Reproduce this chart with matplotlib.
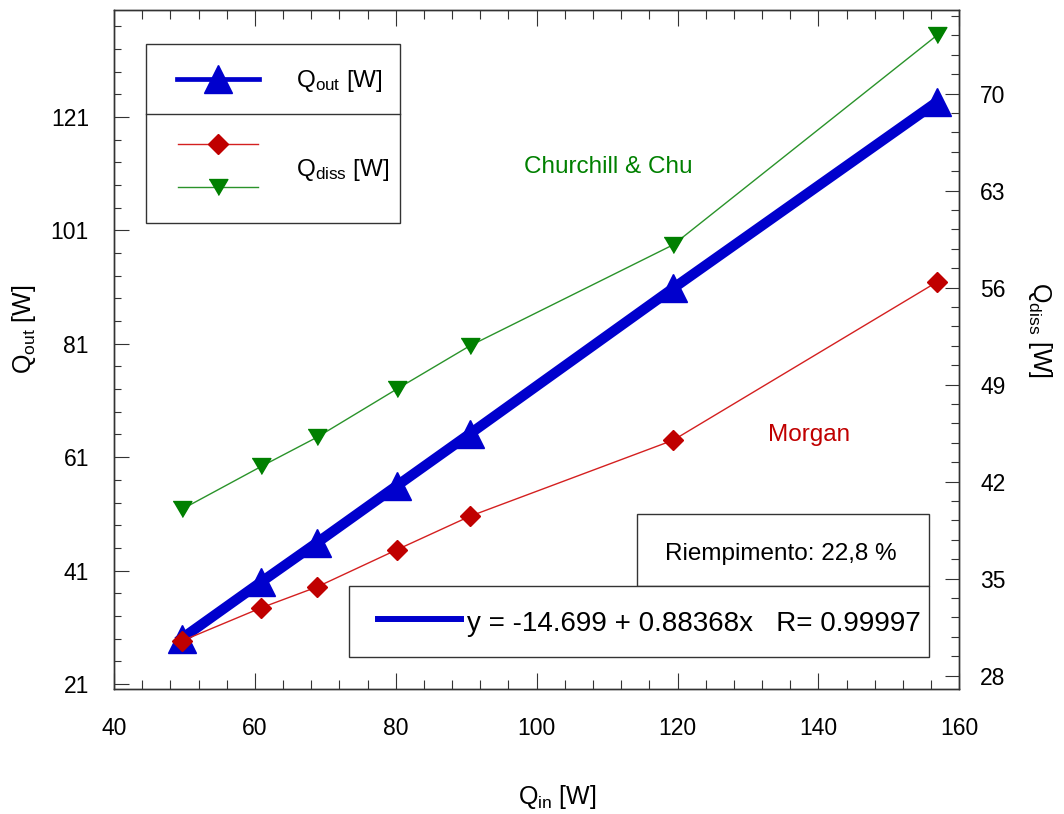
import numpy as np
import matplotlib
matplotlib.use("Agg")
import matplotlib.pyplot as plt
from matplotlib import font_manager
from matplotlib.lines import Line2D
from matplotlib.patches import Rectangle
from matplotlib.ticker import FixedLocator

# ---------------- data ----------------
q_in = [49.6, 60.9, 68.8, 80.2, 90.5, 119.4, 156.8]
q_out = [29.0, 39.0, 45.9, 56.0, 65.1, 90.8, 123.6]
q_diss_morgan = [30.5, 32.9, 34.4, 37.1, 39.5, 45.0, 56.4]
q_diss_churchill = [40.0, 43.1, 45.2, 48.7, 51.8, 59.1, 74.2]

x_ticks = [40, 60, 80, 100, 120, 140, 160]
y_left_ticks = [21, 41, 61, 81, 101, 121]
y_right_ticks = [28, 35, 42, 49, 56, 63, 70]

fit_text = "y = -14.699 + 0.88368x   R= 0.99997"
fill_text = "Riempimento: 22,8 %"
label_churchill = "Churchill & Chu"
label_morgan = "Morgan"

# ---------------- fonts ----------------
names = {f.name for f in font_manager.fontManager.ttflist}
if "Liberation Sans Narrow" in names:
    FONT = "Liberation Sans Narrow"
    TICK_FS, LAB_FS, LEG_FS, ANN_FS, EQ_FS = 18.4, 20, 19, 20, 23.5
else:
    FONT = "Liberation Sans"
    TICK_FS, LAB_FS, LEG_FS, ANN_FS, EQ_FS = 16.5, 18, 17.5, 17.5, 20
plt.rcParams["font.family"] = [FONT, "DejaVu Sans"]
plt.rcParams["mathtext.fontset"] = "custom"
plt.rcParams["mathtext.rm"] = FONT
plt.rcParams["mathtext.it"] = FONT
plt.rcParams["mathtext.bf"] = FONT

W, H = 1064, 814
fig = plt.figure(figsize=(W / 100, H / 100), dpi=100)

L, R, T, B = 114, 959.3, 9.7, 689
ax = fig.add_axes([L / W, 1 - B / H, (R - L) / W, (B - T) / H])
ax2 = ax.twinx()

BLUE = "#0000CD"
RED = "#C00000"
REDL = "#D42020"
GREEN = "#008000"
GREENL = "#2A932A"
SPINE = "#333333"

tri_down = [(-1, 0.85), (1, 0.85), (0, -0.85)]

ax.plot(q_in, q_out, color=BLUE, lw=7.4, marker="^", ms=20,
        mfc=BLUE, mec=BLUE, solid_joinstyle="miter", zorder=3)
ax2.plot(q_in, q_diss_churchill, color=GREENL, lw=1.0, marker=tri_down, ms=13.5,
         mfc=GREEN, mec=GREEN, zorder=3)
ax2.plot(q_in, q_diss_morgan, color=REDL, lw=1.0, marker="D", ms=10,
         mfc=RED, mec=RED, zorder=4)

ax.set_xlim(40, 160)
ax.set_ylim(20.12, 139.9)
ax2.set_ylim(27.04, 76.06)

ax.xaxis.set_major_locator(FixedLocator(x_ticks))
ax.xaxis.set_minor_locator(FixedLocator(np.arange(40, 161, 4)))
ax.yaxis.set_major_locator(FixedLocator(y_left_ticks))
ax.yaxis.set_minor_locator(FixedLocator(np.arange(21, 140, 4)))
ax2.yaxis.set_major_locator(FixedLocator(y_right_ticks))
ax2.yaxis.set_minor_locator(FixedLocator(np.arange(28, 76.1, 1.4)))

ax.tick_params(axis="x", which="both", direction="in", top=True, bottom=True,
               color=SPINE, width=0.8, labelsize=TICK_FS, pad=20, labelcolor="black")
ax.tick_params(axis="x", which="major", length=11.5)
ax.tick_params(axis="x", which="minor", length=6.5)
ax.tick_params(axis="y", which="both", direction="in", left=True, right=False,
               color=SPINE, width=0.8, labelsize=TICK_FS, pad=18)
ax.tick_params(axis="y", which="major", length=10.5)
ax.tick_params(axis="y", which="minor", length=5.3)
ax2.tick_params(axis="y", which="both", direction="in", left=False, right=True,
                color=SPINE, width=0.8, labelsize=TICK_FS, pad=15)
ax2.tick_params(axis="y", which="major", length=10.2)
ax2.tick_params(axis="y", which="minor", length=5.5)

for a in (ax, ax2):
    for s in a.spines.values():
        s.set_color(SPINE)
        s.set_linewidth(1.0)


def fx(px):
    return px / W


def fy(py):
    return 1 - py / H


# axis labels
fig.text(fx(557), fy(797), r"Q$_\mathrm{in}$ [W]", fontsize=LAB_FS,
         ha="center", va="center")
fig.text(fx(24), fy(329), r"Q$_\mathrm{out}$ [W]", fontsize=LAB_FS,
         ha="center", va="center", rotation=90)
fig.text(fx(1040), fy(330), r"Q$_\mathrm{diss}$ [W]", fontsize=LAB_FS,
         ha="center", va="center", rotation=-90)

# annotations
fig.text(fx(524), fy(173), label_churchill, color=GREEN, fontsize=ANN_FS,
         ha="left", va="baseline")
fig.text(fx(768), fy(441), label_morgan, color=RED, fontsize=ANN_FS,
         ha="left", va="baseline")


def box(x0, y0, x1, y1):
    fig.add_artist(Rectangle((fx(x0), fy(y1)), fx(x1) - fx(x0), fy(y0) - fy(y1),
                             transform=fig.transFigure, fill=True, facecolor="white",
                             edgecolor=SPINE, lw=1.0, zorder=5))


def hline(x0, x1, y, color, lw, marker=None, ms=0, xm=None, mfc=None):
    fig.add_artist(Line2D([fx(x0), fx(x1)], [fy(y), fy(y)], transform=fig.transFigure,
                          color=color, lw=lw, zorder=6))
    if marker is not None:
        fig.add_artist(Line2D([fx(xm)], [fy(y)], transform=fig.transFigure,
                              marker=marker, ms=ms, mfc=mfc, mec=mfc, lw=0, zorder=7))


# legend
box(146.3, 44, 400, 222.7)
fig.add_artist(Line2D([fx(146.3), fx(400)], [fy(113.7), fy(113.7)],
                      transform=fig.transFigure, color=SPINE, lw=1.0, zorder=6))
hline(177, 258.7, 78.7, BLUE, 3.4, "^", 20, 217.7, BLUE)
hline(178, 257.7, 144.3, REDL, 1.0, "D", 10, 217.7, RED)
hline(178, 257.7, 187, GREENL, 1.0, tri_down, 13.5, 217.7, GREEN)
fig.text(fx(296), fy(87), r"Q$_\mathrm{out}$ [W]", fontsize=LEG_FS,
         ha="left", va="baseline", zorder=8)
fig.text(fx(296), fy(176), r"Q$_\mathrm{diss}$ [W]", fontsize=LEG_FS,
         ha="left", va="baseline", zorder=8)

# fill box and fit box
box(636.7, 513.7, 929.3, 585.7)
fig.text(fx(665), fy(560), fill_text, fontsize=ANN_FS, ha="left",
         va="baseline", zorder=8)
box(349.3, 585.7, 929.3, 657)
hline(378, 460.7, 619, BLUE, 4.3)
fig.text(fx(467), fy(631), fit_text, fontsize=EQ_FS, ha="left",
         va="baseline", zorder=8)

fig.savefig("out.png", dpi=100, facecolor="white")
